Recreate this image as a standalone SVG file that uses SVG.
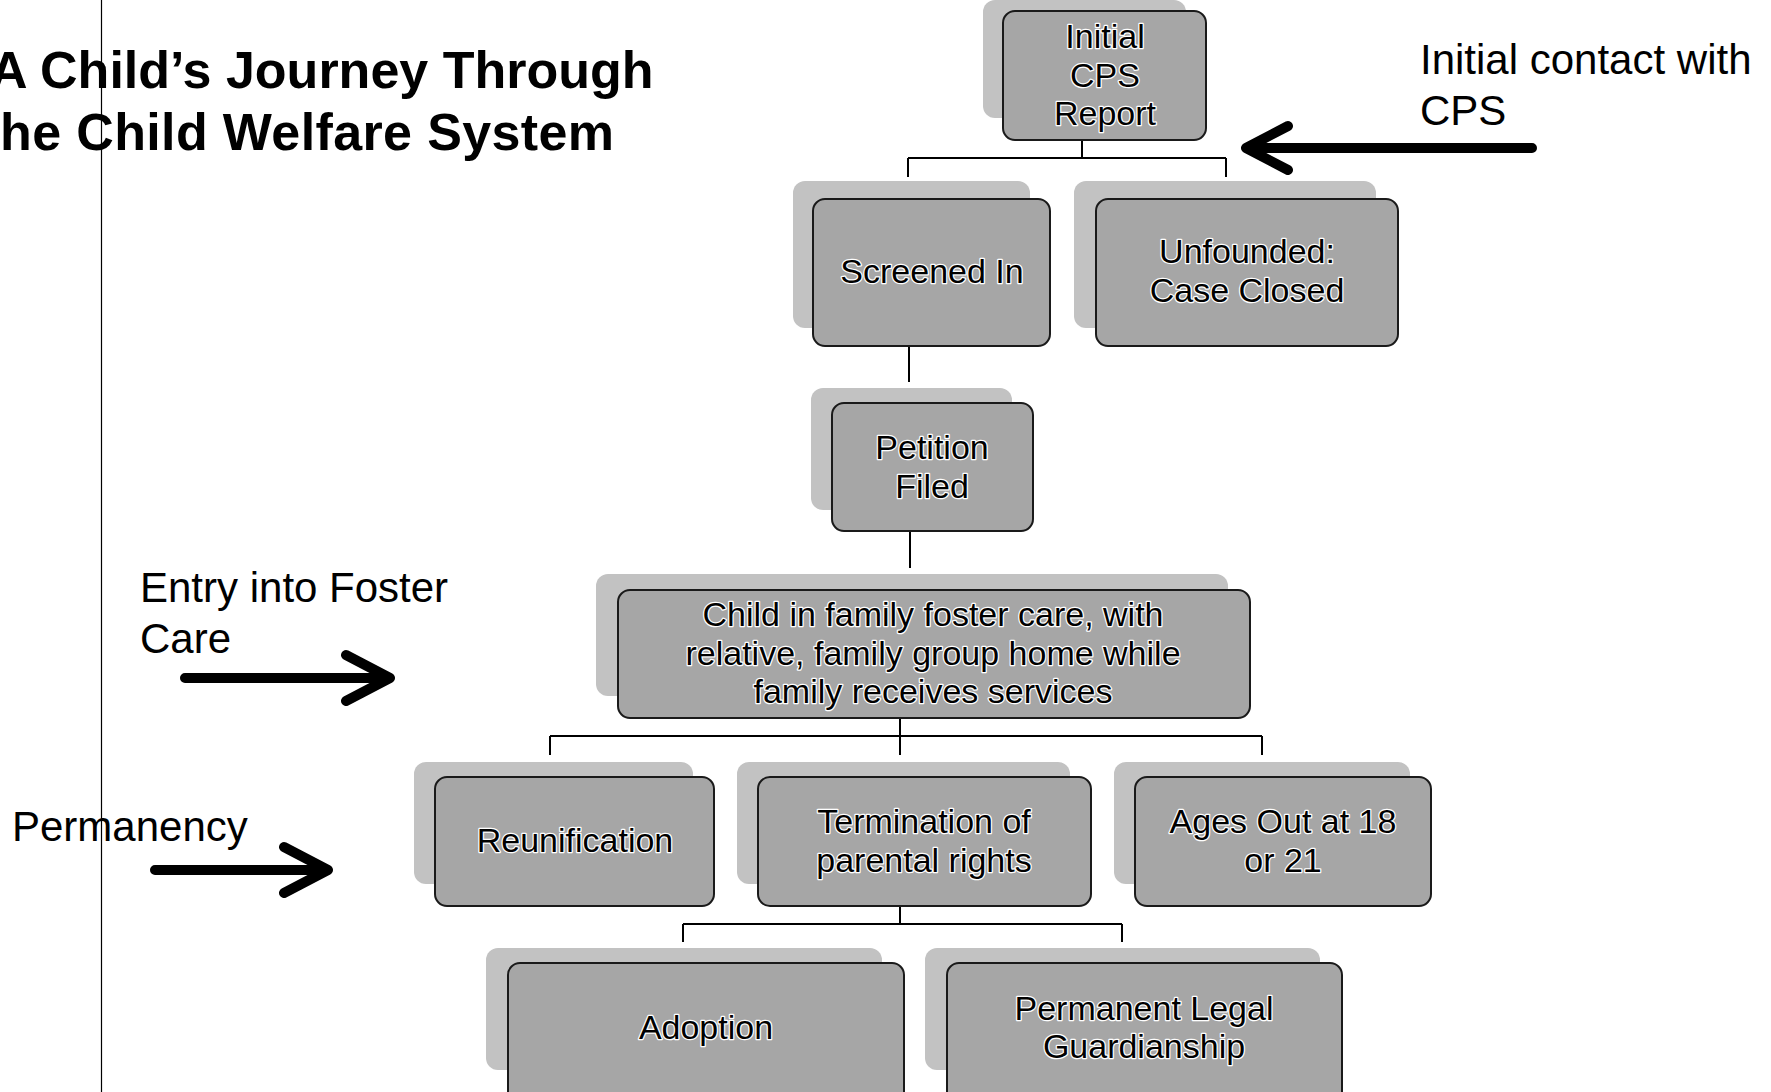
<svg xmlns="http://www.w3.org/2000/svg" width="1771" height="1092" viewBox="0 0 1771 1092">
<style>
.box{fill:#a6a6a6;stroke:#1a1a1a;stroke-width:2}
.sh{fill:#c2c2c2}
.t{font-family:"Liberation Sans",Arial,sans-serif;font-size:34px;fill:#000;stroke:#fff;stroke-width:2.5px;paint-order:stroke;stroke-linejoin:round;text-anchor:middle}
.lbl{font-family:"Liberation Sans",Arial,sans-serif;font-size:42px;fill:#000}
.title{font-family:"Liberation Sans",Arial,sans-serif;font-size:52px;font-weight:bold;fill:#000}
.con{fill:none;stroke:#000;stroke-width:2}
.arr{fill:none;stroke:#000;stroke-width:10;stroke-linecap:round;stroke-linejoin:round}
</style>
<rect width="1771" height="1092" fill="#fff"/>
<line x1="101.5" y1="0" x2="101.5" y2="1092" stroke="#000" stroke-width="1.2"/>
<g id="title">
<text class="title" x="-10" y="88">A Child’s Journey Through</text>
<text class="title" x="0" y="150" textLength="614" lengthAdjust="spacing">he Child Welfare System</text>
</g>
<g id="labels">
<text class="lbl" x="1420" y="74">Initial contact with</text>
<text class="lbl" x="1420" y="125">CPS</text>
<text class="lbl" x="140" y="602">Entry into Foster</text>
<text class="lbl" x="140" y="653">Care</text>
<text class="lbl" x="12" y="841">Permanency</text>
</g>
<g id="arrows">
<path class="arr" d="M1532 148 H1250 M1288 126 L1246 148 L1288 170"/>
<path class="arr" d="M185 678 H386 M346 655 L390 678 L346 701"/>
<path class="arr" d="M155 870 H326 M284 847 L328 870 L284 893"/>
</g>
<g id="connectors">
<path class="con" d="M1082 140 V158 M908 158 H1226 M908 158 V177 M1226 158 V177"/>
<path class="con" d="M909 346 V382"/>
<path class="con" d="M910 531 V568"/>
<path class="con" d="M900 718 V736 M550 736 H1262 M550 736 V755 M900 736 V755 M1262 736 V755"/>
<path class="con" d="M900 906 V924 M683 924 H1122 M683 924 V942 M1122 924 V942"/>
</g>
<g id="n-initial">
<rect class="sh" x="983" y="0" width="203" height="118" rx="12"/>
<rect class="box" x="1003" y="11" width="203" height="129" rx="12"/>
<text class="t" x="1105" y="48">Initial</text>
<text class="t" x="1105" y="87">CPS</text>
<text class="t" x="1105" y="125">Report</text>
</g>
<g id="n-screened">
<rect class="sh" x="793" y="181" width="237" height="147" rx="12"/>
<rect class="box" x="813" y="199" width="237" height="147" rx="12"/>
<text class="t" x="932" y="283">Screened In</text>
</g>
<g id="n-unfounded">
<rect class="sh" x="1074" y="181" width="302" height="147" rx="12"/>
<rect class="box" x="1096" y="199" width="302" height="147" rx="12"/>
<text class="t" x="1247" y="263">Unfounded:</text>
<text class="t" x="1247" y="302">Case Closed</text>
</g>
<g id="n-petition">
<rect class="sh" x="811" y="388" width="201" height="122" rx="12"/>
<rect class="box" x="832" y="403" width="201" height="128" rx="12"/>
<text class="t" x="932" y="459">Petition</text>
<text class="t" x="932" y="498">Filed</text>
</g>
<g id="n-child">
<rect class="sh" x="596" y="574" width="632" height="122" rx="12"/>
<rect class="box" x="618" y="590" width="632" height="128" rx="12"/>
<text class="t" x="933" y="626">Child in family foster care, with</text>
<text class="t" x="933" y="665">relative, family group home while</text>
<text class="t" x="933" y="703">family receives services</text>
</g>
<g id="n-reunification">
<rect class="sh" x="414" y="762" width="279" height="122" rx="12"/>
<rect class="box" x="435" y="777" width="279" height="129" rx="12"/>
<text class="t" x="575" y="852">Reunification</text>
</g>
<g id="n-termination">
<rect class="sh" x="737" y="762" width="333" height="122" rx="12"/>
<rect class="box" x="758" y="777" width="333" height="129" rx="12"/>
<text class="t" x="924" y="833">Termination of</text>
<text class="t" x="924" y="872">parental rights</text>
</g>
<g id="n-agesout">
<rect class="sh" x="1114" y="762" width="296" height="122" rx="12"/>
<rect class="box" x="1135" y="777" width="296" height="129" rx="12"/>
<text class="t" x="1283" y="833">Ages Out at 18</text>
<text class="t" x="1283" y="872">or 21</text>
</g>
<g id="n-adoption">
<rect class="sh" x="486" y="948" width="396" height="122" rx="12"/>
<rect class="box" x="508" y="963" width="396" height="140" rx="12"/>
<text class="t" x="706" y="1039">Adoption</text>
</g>
<g id="n-guardianship">
<rect class="sh" x="925" y="948" width="395" height="122" rx="12"/>
<rect class="box" x="947" y="963" width="395" height="140" rx="12"/>
<text class="t" x="1144" y="1020">Permanent Legal</text>
<text class="t" x="1144" y="1058">Guardianship</text>
</g>
</svg>
